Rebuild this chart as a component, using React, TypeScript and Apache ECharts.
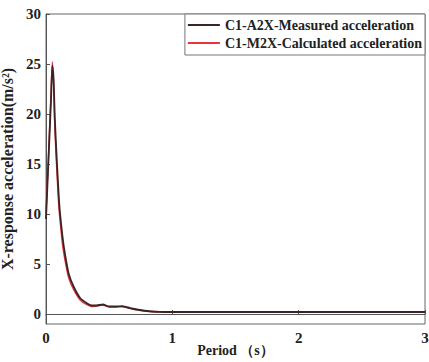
import React, { useEffect, useRef } from "react";
import * as echarts from "echarts";

const periods = [0, 0.02, 0.04, 0.05, 0.06, 0.07, 0.085, 0.1, 0.11, 0.13, 0.15, 0.18, 0.22, 0.27, 0.32, 0.36, 0.4, 0.45, 0.5, 0.55, 0.6, 0.65, 0.7, 0.8, 0.9, 1.0, 1.5, 2.0, 2.5, 3.0];
const measured = [9.5, 15.5, 21.5, 24.8, 23.5, 19.5, 15.5, 12, 10.2, 7.8, 6, 4, 2.7, 1.6, 1.1, 0.85, 0.85, 0.95, 0.75, 0.75, 0.78, 0.65, 0.5, 0.3, 0.22, 0.2, 0.2, 0.2, 0.2, 0.2];
const calculated = [10, 16, 22.2, 25.2, 23, 18.5, 14.5, 11, 9.5, 7, 5.4, 3.6, 2.4, 1.4, 0.95, 0.75, 0.8, 0.9, 0.7, 0.7, 0.72, 0.6, 0.45, 0.28, 0.2, 0.18, 0.18, 0.18, 0.18, 0.18];
const yTicks = [0, 5, 10, 15, 20, 25, 30];
const xTicks = [0, 1, 2, 3];
const seriesNames = ["C1-A2X-Measured acceleration", "C1-M2X-Calculated acceleration"];

const FONT = "'Liberation Serif', 'DejaVu Serif', serif";

export default function App() {
  const ref = useRef<HTMLDivElement>(null);
  useEffect(() => {
    const chart = echarts.init(ref.current!, null, { renderer: "svg" });
    chart.setOption({
      animation: false,
      backgroundColor: "#fff",
      grid: { left: 46, right: 4, top: 14, bottom: 38, show: true, borderColor: "#666", borderWidth: 1, outerBoundsMode: "none", containLabel: false },
      legend: {
        orient: "vertical",
        right: 4,
        top: 14,
        itemWidth: 32,
        itemHeight: 2,
        itemGap: 4,
        padding: [4, 3, 5, 3],
        borderColor: "#777",
        borderWidth: 1,
        backgroundColor: "#fff",
        icon: "rect",
        textStyle: { fontFamily: FONT, fontWeight: "bold", fontSize: 14, color: "#222", padding: [0, 0, 0, 0] },
        data: seriesNames,
      },
      xAxis: {
        type: "value",
        min: 0,
        max: 3,
        interval: 1,
        name: "Period （s）",
        nameLocation: "middle",
        nameGap: 19,
        nameMoveOverlap: false,
        nameTextStyle: { fontFamily: FONT, fontWeight: "bold", fontSize: 14, color: "#222" },
        axisLine: { lineStyle: { color: "#555" } },
        axisTick: { inside: true, length: 4, lineStyle: { color: "#555" } },
        axisLabel: { fontFamily: FONT, fontWeight: "bold", fontSize: 15, color: "#222", margin: 6, customValues: xTicks },
        splitLine: { show: false },
      },
      yAxis: {
        type: "value",
        min: -1,
        max: 30,
        name: "X-response acceleration(m/s²)",
        nameLocation: "middle",
        nameGap: 23,
        nameTextStyle: { fontFamily: FONT, fontWeight: "bold", fontSize: 16, color: "#222" },
        axisLine: { lineStyle: { color: "#555" } },
        axisTick: { inside: true, length: 4, lineStyle: { color: "#555" }, customValues: yTicks },
        axisLabel: { fontFamily: FONT, fontWeight: "bold", fontSize: 15, color: "#222", margin: 5, customValues: yTicks },
        splitLine: { show: false },
      },
      series: [
        {
          name: seriesNames[0],
          type: "line",
          smooth: 0.2,
          showSymbol: false,
          data: periods.map((p, i) => [p, measured[i]]),
          lineStyle: { color: "#3a2424", width: 1.8 },
          itemStyle: { color: "#3a2424" },
          z: 3,
        },
        {
          name: seriesNames[1],
          type: "line",
          smooth: 0.2,
          showSymbol: false,
          data: periods.map((p, i) => [p, calculated[i]]),
          lineStyle: { color: "#e8343a", width: 1.4 },
          itemStyle: { color: "#e8343a" },
          z: 2,
        },
      ],
    });
    return () => chart.dispose();
  }, []);
  return <div ref={ref} style={{ width: 429, height: 362, position: "fixed", left: 0, top: 0 }} />;
}
